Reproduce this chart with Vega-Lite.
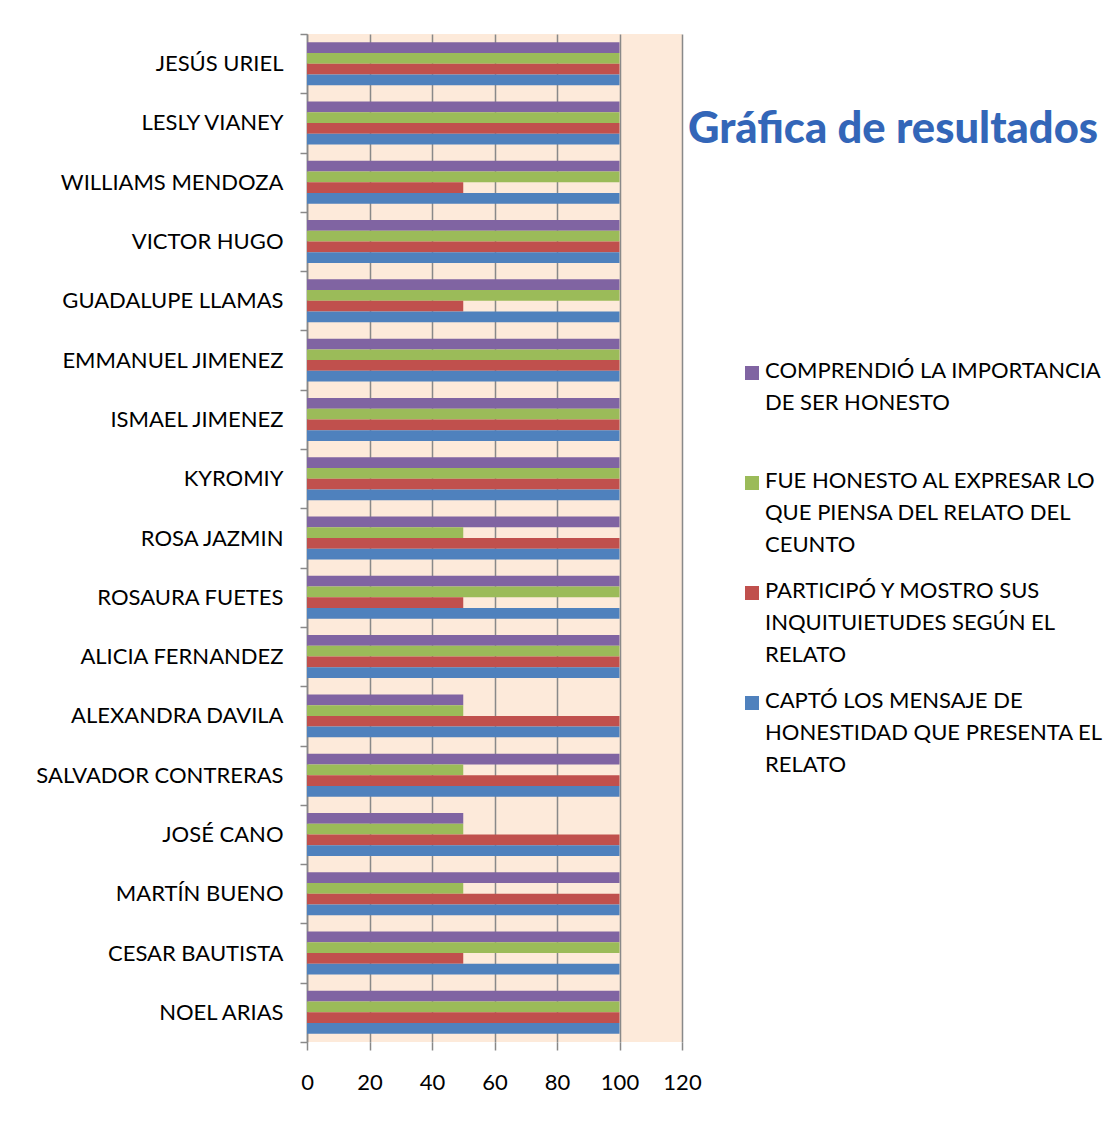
{
  "$schema": "https://vega.github.io/schema/vega-lite/v6.json",
  "width": 375,
  "height": 1008,
  "autosize": {"type": "none"},
  "padding": {"left": 307, "top": 34, "right": 436, "bottom": 80},
  "background": "white",
  "title": {
    "text": "Gráfica de resultados",
    "orient": "top",
    "anchor": "start",
    "frame": "group",
    "offset": 0,
    "dx": 381,
    "dy": 163,
    "baseline": "alphabetic",
    "font": "Lato",
    "fontSize": 43.5,
    "fontWeight": 900,
    "color": "#3366B8"
  },
  "config": {
    "view": {"fill": "#FDEADA", "stroke": null},
    "axis": {"labelFont": "Lato", "labelFontSize": 22, "labelColor": "#000000", "title": null}
  },
  "data": {
    "values": [
      {"nombre": "JESÚS URIEL", "criterio": "COMPRENDIÓ LA IMPORTANCIA DE SER HONESTO", "valor": 100},
      {"nombre": "JESÚS URIEL", "criterio": "FUE HONESTO AL EXPRESAR LO QUE PIENSA DEL RELATO DEL CEUNTO", "valor": 100},
      {"nombre": "JESÚS URIEL", "criterio": "PARTICIPÓ Y MOSTRO SUS INQUITUIETUDES SEGÚN EL RELATO", "valor": 100},
      {"nombre": "JESÚS URIEL", "criterio": "CAPTÓ LOS MENSAJE DE HONESTIDAD QUE PRESENTA EL RELATO", "valor": 100},
      {"nombre": "LESLY VIANEY", "criterio": "COMPRENDIÓ LA IMPORTANCIA DE SER HONESTO", "valor": 100},
      {"nombre": "LESLY VIANEY", "criterio": "FUE HONESTO AL EXPRESAR LO QUE PIENSA DEL RELATO DEL CEUNTO", "valor": 100},
      {"nombre": "LESLY VIANEY", "criterio": "PARTICIPÓ Y MOSTRO SUS INQUITUIETUDES SEGÚN EL RELATO", "valor": 100},
      {"nombre": "LESLY VIANEY", "criterio": "CAPTÓ LOS MENSAJE DE HONESTIDAD QUE PRESENTA EL RELATO", "valor": 100},
      {"nombre": "WILLIAMS MENDOZA", "criterio": "COMPRENDIÓ LA IMPORTANCIA DE SER HONESTO", "valor": 100},
      {"nombre": "WILLIAMS MENDOZA", "criterio": "FUE HONESTO AL EXPRESAR LO QUE PIENSA DEL RELATO DEL CEUNTO", "valor": 100},
      {"nombre": "WILLIAMS MENDOZA", "criterio": "PARTICIPÓ Y MOSTRO SUS INQUITUIETUDES SEGÚN EL RELATO", "valor": 50},
      {"nombre": "WILLIAMS MENDOZA", "criterio": "CAPTÓ LOS MENSAJE DE HONESTIDAD QUE PRESENTA EL RELATO", "valor": 100},
      {"nombre": "VICTOR HUGO", "criterio": "COMPRENDIÓ LA IMPORTANCIA DE SER HONESTO", "valor": 100},
      {"nombre": "VICTOR HUGO", "criterio": "FUE HONESTO AL EXPRESAR LO QUE PIENSA DEL RELATO DEL CEUNTO", "valor": 100},
      {"nombre": "VICTOR HUGO", "criterio": "PARTICIPÓ Y MOSTRO SUS INQUITUIETUDES SEGÚN EL RELATO", "valor": 100},
      {"nombre": "VICTOR HUGO", "criterio": "CAPTÓ LOS MENSAJE DE HONESTIDAD QUE PRESENTA EL RELATO", "valor": 100},
      {"nombre": "GUADALUPE LLAMAS", "criterio": "COMPRENDIÓ LA IMPORTANCIA DE SER HONESTO", "valor": 100},
      {"nombre": "GUADALUPE LLAMAS", "criterio": "FUE HONESTO AL EXPRESAR LO QUE PIENSA DEL RELATO DEL CEUNTO", "valor": 100},
      {"nombre": "GUADALUPE LLAMAS", "criterio": "PARTICIPÓ Y MOSTRO SUS INQUITUIETUDES SEGÚN EL RELATO", "valor": 50},
      {"nombre": "GUADALUPE LLAMAS", "criterio": "CAPTÓ LOS MENSAJE DE HONESTIDAD QUE PRESENTA EL RELATO", "valor": 100},
      {"nombre": "EMMANUEL JIMENEZ", "criterio": "COMPRENDIÓ LA IMPORTANCIA DE SER HONESTO", "valor": 100},
      {"nombre": "EMMANUEL JIMENEZ", "criterio": "FUE HONESTO AL EXPRESAR LO QUE PIENSA DEL RELATO DEL CEUNTO", "valor": 100},
      {"nombre": "EMMANUEL JIMENEZ", "criterio": "PARTICIPÓ Y MOSTRO SUS INQUITUIETUDES SEGÚN EL RELATO", "valor": 100},
      {"nombre": "EMMANUEL JIMENEZ", "criterio": "CAPTÓ LOS MENSAJE DE HONESTIDAD QUE PRESENTA EL RELATO", "valor": 100},
      {"nombre": "ISMAEL JIMENEZ", "criterio": "COMPRENDIÓ LA IMPORTANCIA DE SER HONESTO", "valor": 100},
      {"nombre": "ISMAEL JIMENEZ", "criterio": "FUE HONESTO AL EXPRESAR LO QUE PIENSA DEL RELATO DEL CEUNTO", "valor": 100},
      {"nombre": "ISMAEL JIMENEZ", "criterio": "PARTICIPÓ Y MOSTRO SUS INQUITUIETUDES SEGÚN EL RELATO", "valor": 100},
      {"nombre": "ISMAEL JIMENEZ", "criterio": "CAPTÓ LOS MENSAJE DE HONESTIDAD QUE PRESENTA EL RELATO", "valor": 100},
      {"nombre": "KYROMIY", "criterio": "COMPRENDIÓ LA IMPORTANCIA DE SER HONESTO", "valor": 100},
      {"nombre": "KYROMIY", "criterio": "FUE HONESTO AL EXPRESAR LO QUE PIENSA DEL RELATO DEL CEUNTO", "valor": 100},
      {"nombre": "KYROMIY", "criterio": "PARTICIPÓ Y MOSTRO SUS INQUITUIETUDES SEGÚN EL RELATO", "valor": 100},
      {"nombre": "KYROMIY", "criterio": "CAPTÓ LOS MENSAJE DE HONESTIDAD QUE PRESENTA EL RELATO", "valor": 100},
      {"nombre": "ROSA JAZMIN", "criterio": "COMPRENDIÓ LA IMPORTANCIA DE SER HONESTO", "valor": 100},
      {"nombre": "ROSA JAZMIN", "criterio": "FUE HONESTO AL EXPRESAR LO QUE PIENSA DEL RELATO DEL CEUNTO", "valor": 50},
      {"nombre": "ROSA JAZMIN", "criterio": "PARTICIPÓ Y MOSTRO SUS INQUITUIETUDES SEGÚN EL RELATO", "valor": 100},
      {"nombre": "ROSA JAZMIN", "criterio": "CAPTÓ LOS MENSAJE DE HONESTIDAD QUE PRESENTA EL RELATO", "valor": 100},
      {"nombre": "ROSAURA FUETES", "criterio": "COMPRENDIÓ LA IMPORTANCIA DE SER HONESTO", "valor": 100},
      {"nombre": "ROSAURA FUETES", "criterio": "FUE HONESTO AL EXPRESAR LO QUE PIENSA DEL RELATO DEL CEUNTO", "valor": 100},
      {"nombre": "ROSAURA FUETES", "criterio": "PARTICIPÓ Y MOSTRO SUS INQUITUIETUDES SEGÚN EL RELATO", "valor": 50},
      {"nombre": "ROSAURA FUETES", "criterio": "CAPTÓ LOS MENSAJE DE HONESTIDAD QUE PRESENTA EL RELATO", "valor": 100},
      {"nombre": "ALICIA FERNANDEZ", "criterio": "COMPRENDIÓ LA IMPORTANCIA DE SER HONESTO", "valor": 100},
      {"nombre": "ALICIA FERNANDEZ", "criterio": "FUE HONESTO AL EXPRESAR LO QUE PIENSA DEL RELATO DEL CEUNTO", "valor": 100},
      {"nombre": "ALICIA FERNANDEZ", "criterio": "PARTICIPÓ Y MOSTRO SUS INQUITUIETUDES SEGÚN EL RELATO", "valor": 100},
      {"nombre": "ALICIA FERNANDEZ", "criterio": "CAPTÓ LOS MENSAJE DE HONESTIDAD QUE PRESENTA EL RELATO", "valor": 100},
      {"nombre": "ALEXANDRA DAVILA", "criterio": "COMPRENDIÓ LA IMPORTANCIA DE SER HONESTO", "valor": 50},
      {"nombre": "ALEXANDRA DAVILA", "criterio": "FUE HONESTO AL EXPRESAR LO QUE PIENSA DEL RELATO DEL CEUNTO", "valor": 50},
      {"nombre": "ALEXANDRA DAVILA", "criterio": "PARTICIPÓ Y MOSTRO SUS INQUITUIETUDES SEGÚN EL RELATO", "valor": 100},
      {"nombre": "ALEXANDRA DAVILA", "criterio": "CAPTÓ LOS MENSAJE DE HONESTIDAD QUE PRESENTA EL RELATO", "valor": 100},
      {"nombre": "SALVADOR CONTRERAS", "criterio": "COMPRENDIÓ LA IMPORTANCIA DE SER HONESTO", "valor": 100},
      {"nombre": "SALVADOR CONTRERAS", "criterio": "FUE HONESTO AL EXPRESAR LO QUE PIENSA DEL RELATO DEL CEUNTO", "valor": 50},
      {"nombre": "SALVADOR CONTRERAS", "criterio": "PARTICIPÓ Y MOSTRO SUS INQUITUIETUDES SEGÚN EL RELATO", "valor": 100},
      {"nombre": "SALVADOR CONTRERAS", "criterio": "CAPTÓ LOS MENSAJE DE HONESTIDAD QUE PRESENTA EL RELATO", "valor": 100},
      {"nombre": "JOSÉ CANO", "criterio": "COMPRENDIÓ LA IMPORTANCIA DE SER HONESTO", "valor": 50},
      {"nombre": "JOSÉ CANO", "criterio": "FUE HONESTO AL EXPRESAR LO QUE PIENSA DEL RELATO DEL CEUNTO", "valor": 50},
      {"nombre": "JOSÉ CANO", "criterio": "PARTICIPÓ Y MOSTRO SUS INQUITUIETUDES SEGÚN EL RELATO", "valor": 100},
      {"nombre": "JOSÉ CANO", "criterio": "CAPTÓ LOS MENSAJE DE HONESTIDAD QUE PRESENTA EL RELATO", "valor": 100},
      {"nombre": "MARTÍN BUENO", "criterio": "COMPRENDIÓ LA IMPORTANCIA DE SER HONESTO", "valor": 100},
      {"nombre": "MARTÍN BUENO", "criterio": "FUE HONESTO AL EXPRESAR LO QUE PIENSA DEL RELATO DEL CEUNTO", "valor": 50},
      {"nombre": "MARTÍN BUENO", "criterio": "PARTICIPÓ Y MOSTRO SUS INQUITUIETUDES SEGÚN EL RELATO", "valor": 100},
      {"nombre": "MARTÍN BUENO", "criterio": "CAPTÓ LOS MENSAJE DE HONESTIDAD QUE PRESENTA EL RELATO", "valor": 100},
      {"nombre": "CESAR BAUTISTA", "criterio": "COMPRENDIÓ LA IMPORTANCIA DE SER HONESTO", "valor": 100},
      {"nombre": "CESAR BAUTISTA", "criterio": "FUE HONESTO AL EXPRESAR LO QUE PIENSA DEL RELATO DEL CEUNTO", "valor": 100},
      {"nombre": "CESAR BAUTISTA", "criterio": "PARTICIPÓ Y MOSTRO SUS INQUITUIETUDES SEGÚN EL RELATO", "valor": 50},
      {"nombre": "CESAR BAUTISTA", "criterio": "CAPTÓ LOS MENSAJE DE HONESTIDAD QUE PRESENTA EL RELATO", "valor": 100},
      {"nombre": "NOEL ARIAS", "criterio": "COMPRENDIÓ LA IMPORTANCIA DE SER HONESTO", "valor": 100},
      {"nombre": "NOEL ARIAS", "criterio": "FUE HONESTO AL EXPRESAR LO QUE PIENSA DEL RELATO DEL CEUNTO", "valor": 100},
      {"nombre": "NOEL ARIAS", "criterio": "PARTICIPÓ Y MOSTRO SUS INQUITUIETUDES SEGÚN EL RELATO", "valor": 100},
      {"nombre": "NOEL ARIAS", "criterio": "CAPTÓ LOS MENSAJE DE HONESTIDAD QUE PRESENTA EL RELATO", "valor": 100}
    ]
  },
  "mark": {"type": "bar"},
  "encoding": {
    "y": {
      "field": "nombre",
      "type": "nominal",
      "sort": null,
      "scale": {"paddingInner": 0, "paddingOuter": 0},
      "axis": {
        "tickBand": "extent",
        "domain": true,
        "domainColor": "#898989",
        "domainWidth": 1.5,
        "ticks": true,
        "tickColor": "#898989",
        "tickWidth": 1.5,
        "tickSize": 7,
        "labelPadding": 17,
        "labelLimit": 300,
        "grid": false
      }
    },
    "yOffset": {
      "field": "criterio",
      "type": "nominal",
      "scale": {
        "domain": [
          "COMPRENDIÓ LA IMPORTANCIA DE SER HONESTO",
          "FUE HONESTO AL EXPRESAR LO QUE PIENSA DEL RELATO DEL CEUNTO",
          "PARTICIPÓ Y MOSTRO SUS INQUITUIETUDES SEGÚN EL RELATO",
          "CAPTÓ LOS MENSAJE DE HONESTIDAD QUE PRESENTA EL RELATO"
        ],
        "paddingInner": 0,
        "paddingOuter": 0.76
      }
    },
    "x": {
      "field": "valor",
      "type": "quantitative",
      "scale": {"domain": [0, 120], "nice": false},
      "axis": {
        "values": [0, 20, 40, 60, 80, 100, 120],
        "grid": true,
        "gridColor": "#898989",
        "gridWidth": 1.5,
        "domain": false,
        "tickColor": "#898989",
        "tickWidth": 1.5,
        "tickSize": 8,
        "labelPadding": 22,
        "labelFlush": false
      }
    },
    "color": {
      "field": "criterio",
      "type": "nominal",
      "scale": {
        "domain": [
          "COMPRENDIÓ LA IMPORTANCIA DE SER HONESTO",
          "FUE HONESTO AL EXPRESAR LO QUE PIENSA DEL RELATO DEL CEUNTO",
          "PARTICIPÓ Y MOSTRO SUS INQUITUIETUDES SEGÚN EL RELATO",
          "CAPTÓ LOS MENSAJE DE HONESTIDAD QUE PRESENTA EL RELATO"
        ],
        "range": ["#8064A2", "#9BBB59", "#C0504D", "#4F81BD"]
      },
      "legend": {
        "title": null,
        "orient": "none",
        "legendX": 434,
        "legendY": 328,
        "padding": 0,
        "symbolType": "square",
        "symbolSize": 196,
        "symbolStrokeWidth": 0,
        "labelFont": "Lato",
        "labelFontSize": 22,
        "labelColor": "#000000",
        "labelLimit": 420,
        "labelOffset": 2,
        "rowPadding": 24,
        "labelBaseline": "top",
        "labelExpr": "datum.label == 'COMPRENDIÓ LA IMPORTANCIA DE SER HONESTO' ? ['COMPRENDIÓ LA IMPORTANCIA', 'DE SER HONESTO', ''] : datum.label == 'FUE HONESTO AL EXPRESAR LO QUE PIENSA DEL RELATO DEL CEUNTO' ? ['FUE HONESTO AL EXPRESAR LO', 'QUE PIENSA DEL RELATO DEL', 'CEUNTO'] : datum.label == 'PARTICIPÓ Y MOSTRO SUS INQUITUIETUDES SEGÚN EL RELATO' ? ['PARTICIPÓ Y MOSTRO SUS', 'INQUITUIETUDES SEGÚN EL', 'RELATO'] : ['CAPTÓ LOS MENSAJE DE', 'HONESTIDAD QUE PRESENTA EL', 'RELATO']",
        "encode": {
          "labels": {"update": {"lineHeight": {"value": 32}, "dy": {"value": -12}}}
        }
      }
    }
  }
}
